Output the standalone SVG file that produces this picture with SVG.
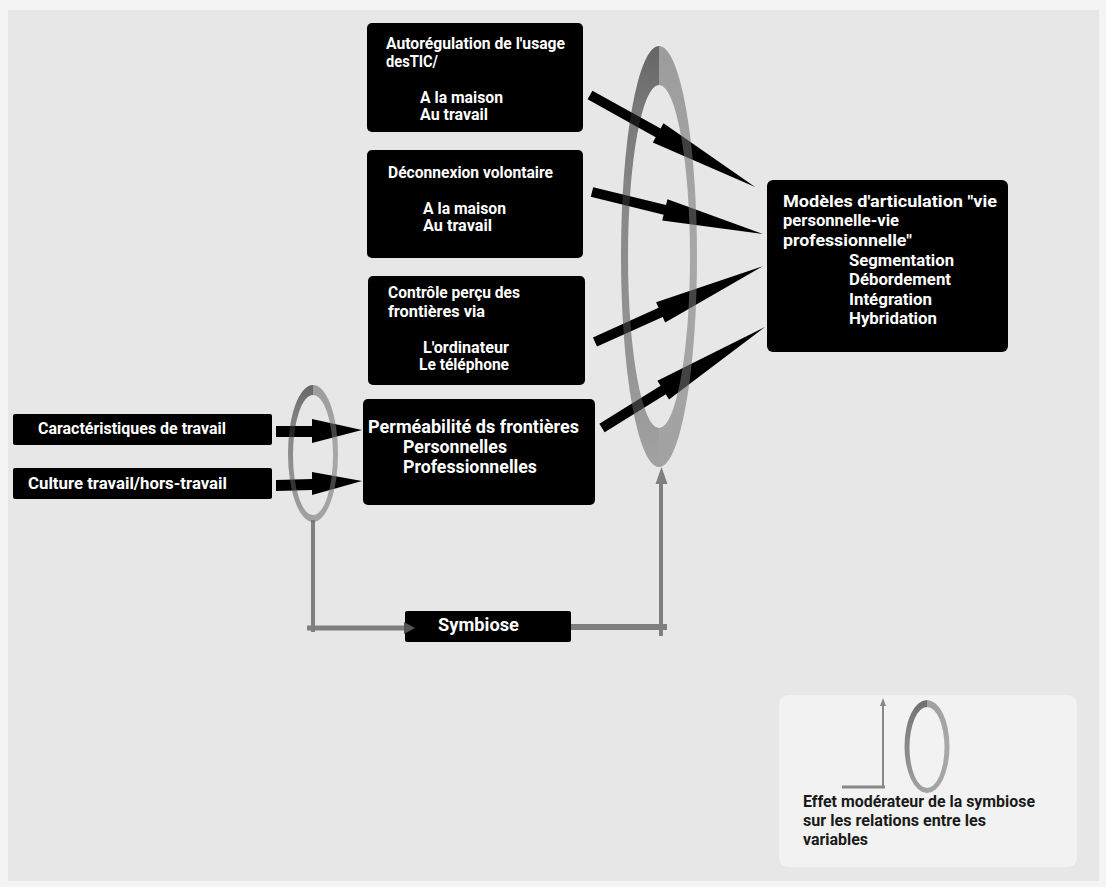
<svg xmlns="http://www.w3.org/2000/svg" width="1106" height="887" viewBox="0 0 1106 887">
<defs>
<style>
.box{fill:#000}
.t{font-family:Roboto,'Liberation Sans',Arial,sans-serif;font-weight:700;fill:#fff;font-size:17px}
.t16{font-size:16px}
.t18{font-size:18px}
.t17{font-size:17px}
.dk{fill:#1a1a1a;font-size:16.5px}
.arr{fill:#000}
.gl{stroke:#7f7f7f;fill:none}
.ring{fill-rule:evenodd;fill-opacity:0.58}
</style>
<linearGradient id="gL" x1="0" y1="0" x2="0" y2="1">
<stop offset="0" stop-color="#070707"/>
<stop offset="0.15" stop-color="#292929"/>
<stop offset="0.4" stop-color="#454545"/>
<stop offset="0.75" stop-color="#585858"/>
<stop offset="1" stop-color="#707070"/>
</linearGradient>
<linearGradient id="gR" x1="0" y1="0" x2="0" y2="1">
<stop offset="0" stop-color="#666"/>
<stop offset="0.5" stop-color="#797979"/>
<stop offset="1" stop-color="#707070"/>
</linearGradient>
<linearGradient id="gLo" x1="0" y1="0" x2="0" y2="1">
<stop offset="0" stop-color="#6e6e6e"/>
<stop offset="0.3" stop-color="#828282"/>
<stop offset="0.6" stop-color="#8c8c8c"/>
<stop offset="1" stop-color="#a2a2a2"/>
</linearGradient>
<linearGradient id="gRo" x1="0" y1="0" x2="0" y2="1">
<stop offset="0" stop-color="#a0a0a0"/>
<stop offset="0.5" stop-color="#a8a8a8"/>
<stop offset="1" stop-color="#a2a2a2"/>
</linearGradient>
<clipPath id="cBL"><rect x="600" y="30" width="59" height="460"/></clipPath>
<clipPath id="cBR"><rect x="659" y="30" width="60" height="460"/></clipPath>
<clipPath id="cSL"><rect x="280" y="375" width="33" height="160"/></clipPath>
<clipPath id="cSR"><rect x="313" y="375" width="33" height="160"/></clipPath>
<clipPath id="cLL"><rect x="900" y="690" width="27" height="110"/></clipPath>
<clipPath id="cLR"><rect x="927" y="690" width="27" height="110"/></clipPath>
</defs>

<rect x="0" y="0" width="1106" height="887" fill="#f4f4f4"/>
<rect x="8" y="10" width="1091" height="871" fill="#e7e7e7"/>

<g id="node-autoregulation">
<rect class="box" x="367" y="23" width="216" height="109" rx="5"/>
<text class="t t16" x="386" y="49" textLength="179" lengthAdjust="spacingAndGlyphs">Autorégulation de l'usage</text>
<text class="t t16" x="386" y="67" textLength="52" lengthAdjust="spacingAndGlyphs">desTIC/</text>
<text class="t t16" x="420" y="103" textLength="83" lengthAdjust="spacingAndGlyphs">A la maison</text>
<text class="t t16" x="420" y="120" textLength="68" lengthAdjust="spacingAndGlyphs">Au travail</text>
</g>

<g id="node-deconnexion">
<rect class="box" x="367" y="150" width="216" height="108" rx="5"/>
<text class="t t16" x="388" y="178" textLength="165" lengthAdjust="spacingAndGlyphs">Déconnexion volontaire</text>
<text class="t t16" x="423" y="214" textLength="83" lengthAdjust="spacingAndGlyphs">A la maison</text>
<text class="t t16" x="423" y="231" textLength="69" lengthAdjust="spacingAndGlyphs">Au travail</text>
</g>

<g id="node-controle">
<rect class="box" x="368" y="276" width="217" height="109" rx="5"/>
<text class="t t16" x="388" y="298" textLength="132" lengthAdjust="spacingAndGlyphs">Contrôle perçu des</text>
<text class="t t16" x="388" y="317" textLength="97" lengthAdjust="spacingAndGlyphs">frontières via</text>
<text class="t t16" x="423" y="353" textLength="86" lengthAdjust="spacingAndGlyphs">L'ordinateur</text>
<text class="t t16" x="419" y="370" textLength="90" lengthAdjust="spacingAndGlyphs">Le téléphone</text>
</g>

<g id="node-permeabilite">
<rect class="box" x="363" y="399" width="232" height="106" rx="5"/>
<text class="t t18" x="368" y="433" textLength="211" lengthAdjust="spacingAndGlyphs">Perméabilité ds frontières</text>
<text class="t t18" x="403" y="453" textLength="104" lengthAdjust="spacingAndGlyphs">Personnelles</text>
<text class="t t18" x="403" y="473" textLength="134" lengthAdjust="spacingAndGlyphs">Professionnelles</text>
</g>

<g id="node-modeles">
<rect class="box" x="767" y="180" width="241" height="172" rx="6"/>
<text class="t t17" x="783" y="207" textLength="214" lengthAdjust="spacingAndGlyphs">Modèles d'articulation "vie</text>
<text class="t t17" x="783" y="226" textLength="116" lengthAdjust="spacingAndGlyphs">personnelle-vie</text>
<text class="t t17" x="783" y="246" textLength="129" lengthAdjust="spacingAndGlyphs">professionnelle"</text>
<text class="t t17" x="849" y="266" textLength="105" lengthAdjust="spacingAndGlyphs">Segmentation</text>
<text class="t t17" x="849" y="285" textLength="102" lengthAdjust="spacingAndGlyphs">Débordement</text>
<text class="t t17" x="849" y="305" textLength="83" lengthAdjust="spacingAndGlyphs">Intégration</text>
<text class="t t17" x="849" y="324" textLength="88" lengthAdjust="spacingAndGlyphs">Hybridation</text>
</g>

<g id="node-caracteristiques">
<rect class="box" x="13" y="414" width="259" height="31" rx="2"/>
<text class="t" x="38" y="434" textLength="188" lengthAdjust="spacingAndGlyphs">Caractéristiques de travail</text>
</g>

<g id="node-culture">
<rect class="box" x="13" y="468" width="259" height="31" rx="2"/>
<text class="t" x="28" y="489" textLength="199" lengthAdjust="spacingAndGlyphs">Culture travail/hors-travail</text>
</g>

<g id="node-symbiose">
<rect class="box" x="405" y="611" width="166" height="31" rx="2"/>
<text class="t t18" x="438" y="631" textLength="81" lengthAdjust="spacingAndGlyphs">Symbiose</text>
</g>

<g id="connectors">
<path class="arr" transform="translate(590,95) rotate(29.1)" d="M0,-5 H78 V-11 L189,0 L78,11 V5 H0 Z"/>
<path class="arr" transform="translate(592,192) rotate(13.8)" d="M0,-5 H75 V-11 L176,0 L75,11 V5 H0 Z"/>
<path class="arr" transform="translate(595,342) rotate(-24.3)" d="M0,-5 H72 V-11 L184,0 L72,11 V5 H0 Z"/>
<path class="arr" transform="translate(602,428) rotate(-31.8)" d="M0,-5 H72 V-11 L192,0 L72,11 V5 H0 Z"/>
<polygon class="arr" points="276,426 312,426 312,419 362,430 312,443 312,437 276,437"/>
<polygon class="arr" points="276,480 312,479 312,472 362,481 312,495 312,490 276,491"/>
<line class="gl" x1="313" y1="520" x2="313" y2="632" stroke-width="4"/>
<line class="gl" x1="307" y1="628" x2="406" y2="628" stroke-width="5"/>
<polygon points="404,622 415,628 404,634" fill="#555"/>
<line class="gl" x1="571" y1="627" x2="667" y2="627" stroke-width="6"/>
<line class="gl" x1="661" y1="636" x2="661" y2="482" stroke-width="4"/>
<polygon points="655.5,484 667.5,484 661.5,467" fill="#7f7f7f"/>
</g>

<g id="moderator-big">
<path class="ring" clip-path="url(#cBL)" fill="url(#gL)" d="M621,256.5 a38,210.5 0 1,0 76,0 a38,210.5 0 1,0 -76,0 Z M628,256.5 a31,171.5 0 1,0 62,0 a31,171.5 0 1,0 -62,0 Z"/>
<path class="ring" clip-path="url(#cBR)" fill="url(#gR)" d="M621,256.5 a38,210.5 0 1,0 76,0 a38,210.5 0 1,0 -76,0 Z M628,256.5 a31,171.5 0 1,0 62,0 a31,171.5 0 1,0 -62,0 Z"/>
</g>

<g id="moderator-small">
<path class="ring" clip-path="url(#cSL)" fill="url(#gL)" d="M288,453.5 a25,68.5 0 1,0 50,0 a25,68.5 0 1,0 -50,0 Z M293,455 a20,60 0 1,0 40,0 a20,60 0 1,0 -40,0 Z"/>
<path class="ring" clip-path="url(#cSR)" fill="url(#gR)" d="M288,453.5 a25,68.5 0 1,0 50,0 a25,68.5 0 1,0 -50,0 Z M293,455 a20,60 0 1,0 40,0 a20,60 0 1,0 -40,0 Z"/>
</g>

<g id="legend">
<rect x="779" y="695" width="298" height="172" rx="9" fill="#f2f2f2"/>
<line x1="842" y1="787" x2="885" y2="787" stroke="#888" stroke-width="3"/>
<line x1="883" y1="788" x2="883" y2="705" stroke="#888" stroke-width="2"/>
<polygon points="880,706 886,706 883,698" fill="#888"/>
<path clip-path="url(#cLL)" fill="url(#gLo)" fill-rule="evenodd" d="M904.5,746.5 a22.5,46.5 0 1,0 45,0 a22.5,46.5 0 1,0 -45,0 Z M909.5,747.5 a17.5,40.5 0 1,0 35,0 a17.5,40.5 0 1,0 -35,0 Z"/>
<path clip-path="url(#cLR)" fill="url(#gRo)" fill-rule="evenodd" d="M904.5,746.5 a22.5,46.5 0 1,0 45,0 a22.5,46.5 0 1,0 -45,0 Z M909.5,747.5 a17.5,40.5 0 1,0 35,0 a17.5,40.5 0 1,0 -35,0 Z"/>
<text class="t dk" x="803" y="807" textLength="232" lengthAdjust="spacingAndGlyphs">Effet modérateur de la symbiose</text>
<text class="t dk" x="803" y="826" textLength="183" lengthAdjust="spacingAndGlyphs">sur les relations entre les</text>
<text class="t dk" x="803" y="845" textLength="65" lengthAdjust="spacingAndGlyphs">variables</text>
</g>
</svg>
